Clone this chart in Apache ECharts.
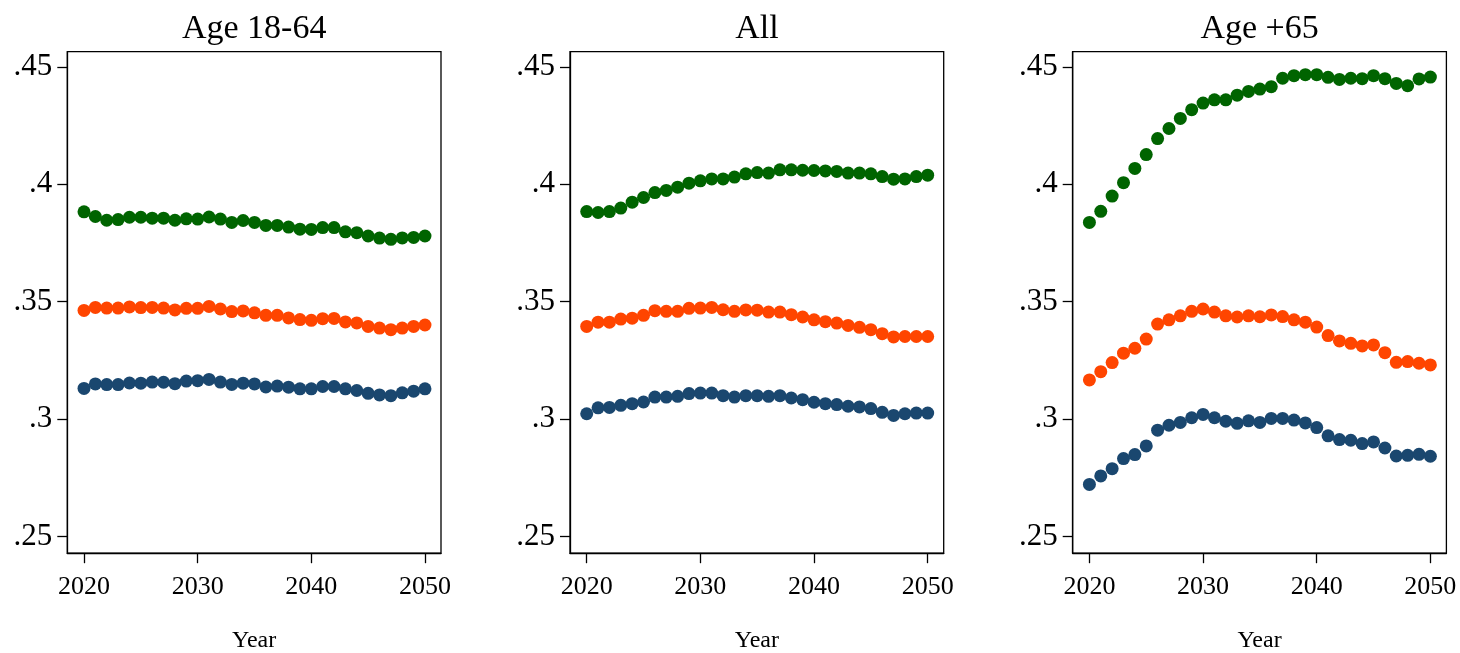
<!DOCTYPE html>
<html>
<head>
<meta charset="utf-8">
<title>Age panels</title>
<script src="https://cdn.jsdelivr.net/npm/echarts@6/dist/echarts.min.js"></script>
<style>
  html, body { margin: 0; padding: 0; background: #fff; }
  #chart { width: 1460px; height: 653px; }
</style>
</head>
<body>
<div id="chart"></div>
<script>
  // years on the x axis
  const YEARS = [];
  for (let y = 2020; y <= 2050; y++) YEARS.push(y);

  const PANEL_TITLES = ['Age 18-64', 'All', 'Age +65'];
  const X_TICKS = [2020, 2030, 2040, 2050];
  const Y_TICKS = [0.25, 0.3, 0.35, 0.4, 0.45];

  // Age 18-64
  const GREEN_1864 = [0.3883,0.3863,0.3847,0.3850,0.3860,0.3860,0.3856,0.3856,0.3847,0.3853,0.3852,0.3861,0.3852,0.3838,0.3846,0.3838,0.3825,0.3825,0.3818,0.3809,0.3808,0.3816,0.3816,0.3798,0.3794,0.3780,0.3771,0.3766,0.3772,0.3774,0.3780];
  const ORANGE_1864 = [0.3463,0.3476,0.3473,0.3473,0.3478,0.3475,0.3476,0.3473,0.3465,0.3472,0.3472,0.3480,0.3469,0.3458,0.3461,0.3453,0.3442,0.3442,0.3431,0.3424,0.3421,0.3428,0.3429,0.3414,0.3410,0.3395,0.3388,0.3381,0.3388,0.3395,0.3401];
  const BLUE_1864 = [0.3131,0.3150,0.3147,0.3147,0.3154,0.3153,0.3158,0.3157,0.3151,0.3162,0.3164,0.3169,0.3158,0.3148,0.3153,0.3150,0.3137,0.3141,0.3136,0.3129,0.3129,0.3139,0.3139,0.3129,0.3122,0.3110,0.3103,0.3100,0.3112,0.3119,0.3129];

  // All
  const GREEN_ALL = [0.3884,0.3880,0.3884,0.3899,0.3924,0.3944,0.3965,0.3974,0.3988,0.4005,0.4015,0.4023,0.4023,0.4031,0.4045,0.4050,0.4048,0.4062,0.4062,0.4060,0.4059,0.4057,0.4055,0.4048,0.4048,0.4045,0.4033,0.4022,0.4023,0.4033,0.4039];
  const ORANGE_ALL = [0.3395,0.3413,0.3413,0.3426,0.3430,0.3442,0.3462,0.3459,0.3459,0.3472,0.3473,0.3476,0.3466,0.3459,0.3465,0.3464,0.3456,0.3456,0.3445,0.3435,0.3423,0.3415,0.3409,0.3399,0.3391,0.3381,0.3364,0.3350,0.3352,0.3352,0.3352];
  const BLUE_ALL = [0.3023,0.3048,0.3050,0.3059,0.3066,0.3073,0.3094,0.3094,0.3097,0.3109,0.3111,0.3111,0.3100,0.3094,0.3100,0.3100,0.3097,0.3100,0.3090,0.3083,0.3072,0.3066,0.3062,0.3055,0.3052,0.3045,0.3029,0.3016,0.3023,0.3026,0.3026];

  // Age +65
  const GREEN_65 = [0.3838,0.3885,0.3950,0.4007,0.4068,0.4127,0.4195,0.4238,0.4281,0.4318,0.4346,0.4360,0.4360,0.4380,0.4396,0.4406,0.4416,0.4452,0.4463,0.4467,0.4467,0.4456,0.4447,0.4452,0.4450,0.4463,0.4450,0.4430,0.4420,0.4449,0.4457];
  const ORANGE_65 = [0.3167,0.3202,0.3241,0.3281,0.3302,0.3341,0.3405,0.3423,0.3440,0.3459,0.3469,0.3456,0.3440,0.3435,0.3440,0.3436,0.3444,0.3437,0.3423,0.3413,0.3392,0.3356,0.3333,0.3323,0.3312,0.3316,0.3283,0.3242,0.3245,0.3238,0.3231];
  const BLUE_65 = [0.2722,0.2758,0.2789,0.2832,0.2849,0.2886,0.2953,0.2974,0.2986,0.3006,0.3020,0.3006,0.2991,0.2982,0.2993,0.2986,0.3003,0.3003,0.2996,0.2984,0.2964,0.2929,0.2913,0.2910,0.2896,0.2903,0.2877,0.2843,0.2846,0.2850,0.2842];

  const PANELS = [
    [GREEN_1864, ORANGE_1864, BLUE_1864],
    [GREEN_ALL, ORANGE_ALL, BLUE_ALL],
    [GREEN_65, ORANGE_65, BLUE_65]
  ];
  const COLORS = ['#006400', '#ff4500', '#1a476f'];

  const FONT = '"Liberation Serif", "DejaVu Serif", serif';
  const GRID_LEFTS = [67.3, 570, 1072.7];
  const GRID_W = 373.7;
  const GRID_TOP = 51.7;
  const GRID_H = 501.5;

  const grids = [], xAxes = [], yAxes = [], series = [], titles = [];

  GRID_LEFTS.forEach((left, i) => {
    grids.push({
      left: left, top: GRID_TOP, width: GRID_W, height: GRID_H,
      containLabel: false, outerBoundsMode: 'none',
      show: true, borderColor: '#000', borderWidth: 1.3, backgroundColor: '#fff'
    });
    titles.push({
      text: PANEL_TITLES[i],
      left: left + GRID_W / 2,
      top: 12,
      padding: 0,
      textAlign: 'center',
      textStyle: { fontFamily: FONT, fontSize: 34, fontWeight: 'normal', color: '#000' }
    });
    xAxes.push({
      gridIndex: i, type: 'value', min: 2018.53, max: 2051.41,
      name: 'Year', nameLocation: 'middle', nameGap: 76,
      nameTextStyle: { fontFamily: FONT, fontSize: 24, color: '#000' },
      axisLine: { show: true, lineStyle: { color: '#000', width: 1.3 } },
      axisTick: { show: true, length: 10, customValues: X_TICKS, lineStyle: { color: '#000', width: 1.3 } },
      axisLabel: {
        customValues: X_TICKS, margin: 21, fontFamily: FONT, fontSize: 26, color: '#000',
        formatter: v => String(Math.round(v))
      },
      splitLine: { show: false }
    });
    yAxes.push({
      gridIndex: i, type: 'value', min: 0.2429, max: 0.4565,
      axisLine: { show: true, lineStyle: { color: '#000', width: 1.3 } },
      axisTick: { show: true, length: 10, customValues: Y_TICKS, lineStyle: { color: '#000', width: 1.3 } },
      axisLabel: {
        customValues: Y_TICKS, margin: 15, fontFamily: FONT, fontSize: 31, color: '#000',
        padding: [12, 0, 0, 0],
        formatter: v => String(+v.toFixed(2)).replace(/^0/, '')
      },
      splitLine: { show: false }
    });
    PANELS[i].forEach((vals, k) => {
      series.push({
        type: 'scatter',
        xAxisIndex: i, yAxisIndex: i,
        symbol: 'circle', symbolSize: 13,
        itemStyle: { color: COLORS[k], opacity: 1 },
        data: YEARS.map((yr, j) => [yr, vals[j]]),
        silent: true
      });
    });
  });

  const chart = echarts.init(document.getElementById('chart'), null, { renderer: 'canvas' });
  chart.setOption({
    animation: false,
    backgroundColor: '#fff',
    title: titles,
    grid: grids,
    xAxis: xAxes,
    yAxis: yAxes,
    series: series
  });
</script>
</body>
</html>
